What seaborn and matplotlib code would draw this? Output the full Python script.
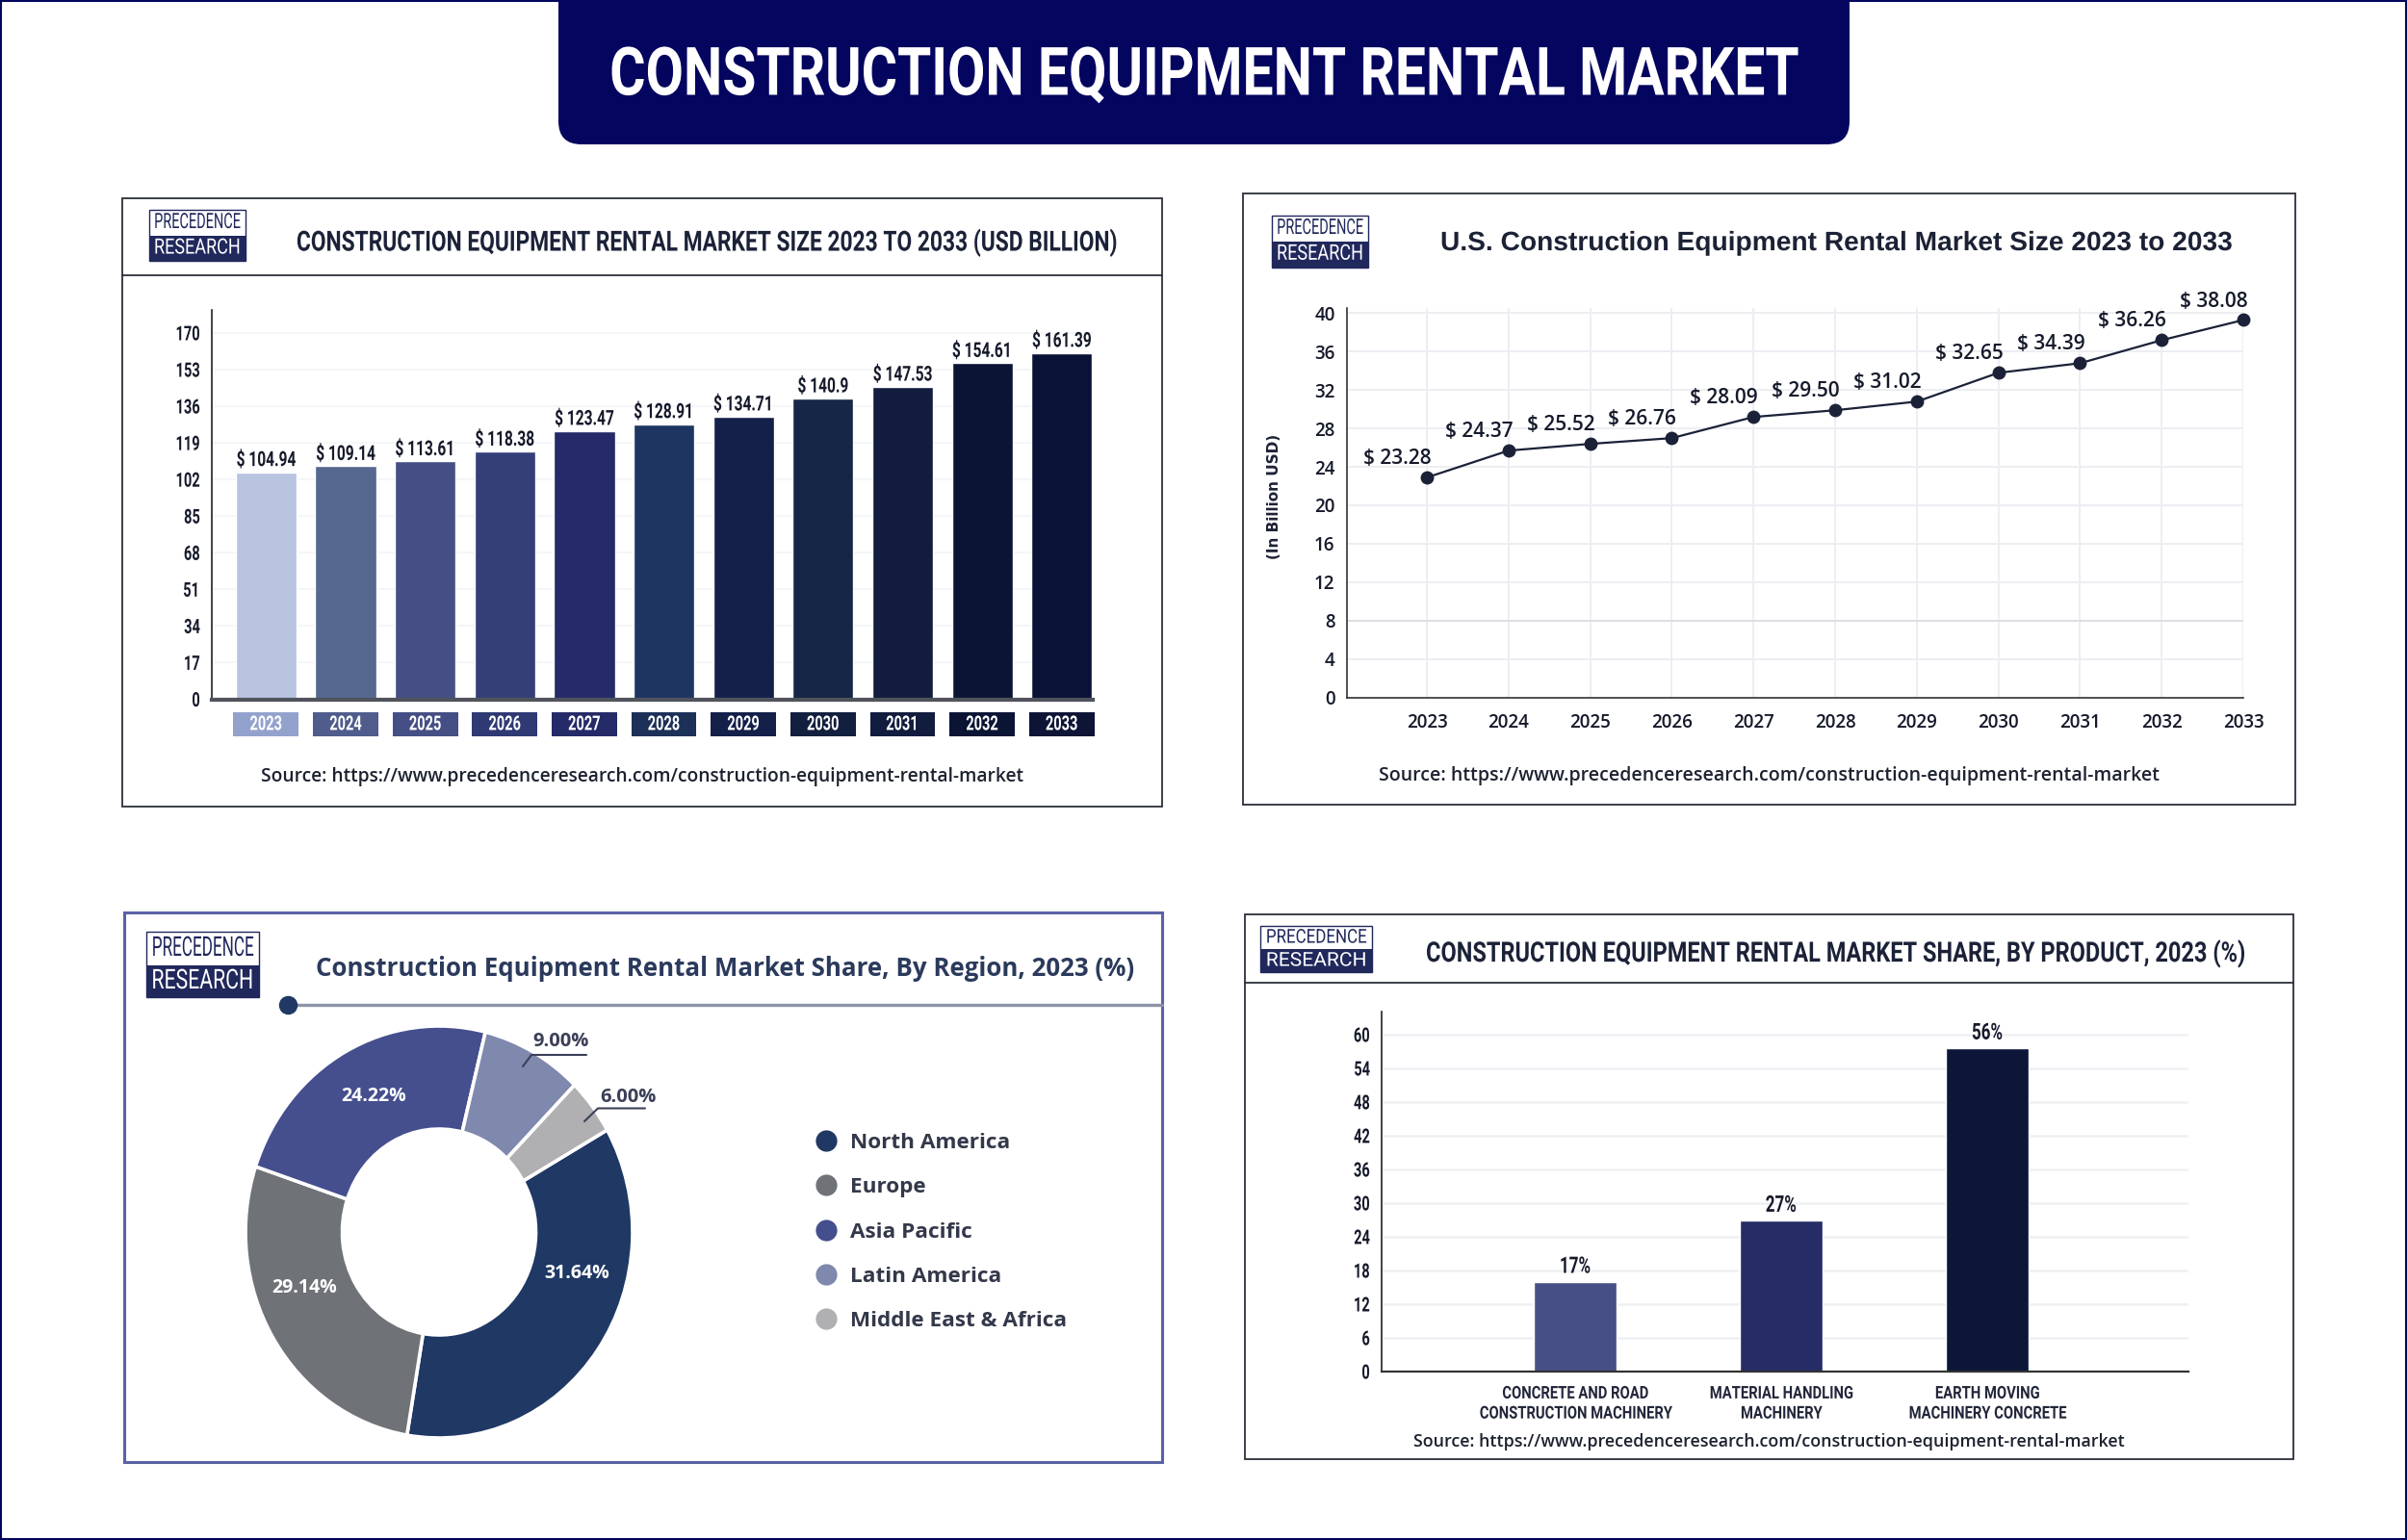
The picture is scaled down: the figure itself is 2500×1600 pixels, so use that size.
import matplotlib
matplotlib.use("Agg")
import matplotlib.pyplot as plt
import matplotlib.patheffects as pe
from matplotlib.lines import Line2D
from matplotlib.patches import FancyBboxPatch, Rectangle
from matplotlib.transforms import Affine2D
import seaborn as sns

W, H = 2500, 1600
NARROW = ["Roboto", "DejaVu Sans"]
WIDE = ["Open Sans", "DejaVu Sans"]
NAVY = "#04055f"
INK = "#1b2238"
SOURCE = "Source: https://www.precedenceresearch.com/construction-equipment-rental-market"

# market size bars
size_years = ["2023", "2024", "2025", "2026", "2027", "2028", "2029", "2030", "2031", "2032", "2033"]
size_heights = [105.4, 108.2, 110.4, 114.9, 124.5, 127.7, 131.2, 139.6, 145.0, 156.0, 160.7]
size_labels = ["$ 104.94", "$ 109.14", "$ 113.61", "$ 118.38", "$ 123.47", "$ 128.91",
               "$ 134.71", "$ 140.9", "$ 147.53", "$ 154.61", "$ 161.39"]
size_colors = ["#b8c4e0", "#56688f", "#454f85", "#343f78", "#252a68", "#1d3560",
               "#14204a", "#162646", "#111c3e", "#0b1434", "#0a1238"]
tag_colors = ["#93a2cd", "#4f5c8c", "#454f85", "#2f3a74", "#252a68", "#1d3058",
              "#14204a", "#131f3e", "#111c3e", "#0b1434", "#0d1436"]
size_ticks = [0, 17, 34, 51, 68, 85, 102, 119, 136, 153, 170]

# U.S. line
us_years = [2023, 2024, 2025, 2026, 2027, 2028, 2029, 2030, 2031, 2032, 2033]
us_heights = [22.9, 25.7, 26.4, 27.0, 29.2, 29.9, 30.8, 33.8, 34.8, 37.2, 39.3]
us_labels = ["$ 23.28", "$ 24.37", "$ 25.52", "$ 26.76", "$ 28.09", "$ 29.50",
             "$ 31.02", "$ 32.65", "$ 34.39", "$ 36.26", "$ 38.08"]
us_ticks = [0, 4, 8, 12, 16, 20, 24, 28, 32, 36, 40]

# region donut, shares as drawn and as printed
regions = ["North America", "Europe", "Asia Pacific", "Latin America", "Middle East & Africa"]
region_drawn = [35.9, 27.5, 23.7, 8.5, 4.4]
region_labels = ["31.64%", "29.14%", "24.22%", "9.00%", "6.00%"]
region_colors = ["#1f3864", "#6f7276", "#454f8e", "#7f88ad", "#b0b0b3"]

# product bars
products = ["CONCRETE AND ROAD\nCONSTRUCTION MACHINERY", "MATERIAL HANDLING\nMACHINERY",
            "EARTH MOVING\nMACHINERY CONCRETE"]
product_heights = [16.0, 26.9, 57.6]
product_labels = ["17%", "27%", "56%"]
product_colors = ["#465086", "#262c66", "#0b1638"]
product_ticks = [0, 6, 12, 18, 24, 30, 36, 42, 48, 54, 60]

sns.set_theme(style="white")
plt.rcParams["font.family"] = NARROW
fig = plt.figure(figsize=(W / 100, H / 100), dpi=100, facecolor="white")


class Condense(pe.AbstractPathEffect):
    # no condensed font installed, so squeeze the glyphs sideways (sy can make them taller)
    def __init__(self, sx, anchor="center", sy=1.0):
        super().__init__()
        self.sx = sx
        self.sy = sy
        self.anchor = anchor

    def draw_path(self, renderer, gc, tpath, affine, rgbFace=None):
        box = tpath.get_extents(affine)
        cx = box.x1 if self.anchor == "right" else (box.x0 + box.x1) / 2
        cy = (box.y0 + box.y1) / 2
        squeeze = Affine2D().translate(-cx, -cy).scale(self.sx, self.sy).translate(cx, cy)
        renderer.draw_path(gc, tpath, affine + squeeze, rgbFace)


def narrow(labels, sx, anchor="center", weight="bold"):
    for lab in labels:
        lab.set_family(NARROW)
        lab.set_weight(weight)
        lab.set_path_effects([Condense(sx, anchor)])


def panel_axes(x0, ytop, x1, ybot):
    ax = fig.add_axes([x0 / W, 1 - ybot / H, (x1 - x0) / W, (ybot - ytop) / H])
    ax.patch.set_alpha(0)
    return ax


# pixel overlay for frames, logos and free text
page = fig.add_axes([0, 0, 1, 1], zorder=5)
page.set_xlim(0, W)
page.set_ylim(H, 0)
page.axis("off")


def fit_text(x0, x1, y, s, size, family=NARROW, weight="bold", color=INK, squeeze=True, sy=1.0):
    # keep the height from size, squeeze the width to span x0..x1
    t = page.text((x0 + x1) / 2, y, s, family=family, weight=weight, color=color,
                  fontsize=size, ha="center", va="center")
    w = t.get_window_extent(fig.canvas.get_renderer()).width
    if squeeze:
        t.set_path_effects([Condense((x1 - x0) / w, sy=sy)])
    else:
        t.set_fontsize(size * (x1 - x0) / w)
    return t


def draw_frame(x0, y0, x1, y1, color="#2b2f3a", lw=1.3):
    page.add_patch(Rectangle((x0, y0), x1 - x0, y1 - y0, fc="none", ec=color, lw=lw))


def draw_logo(x0, y0, x1, y1, ymid):
    page.add_patch(Rectangle((x0, y0), x1 - x0, y1 - y0, fc="white", ec="#20285c", lw=1))
    page.add_patch(Rectangle((x0, ymid), x1 - x0, y1 - ymid, fc="#20285c", ec="none"))
    m = (x1 - x0) * 0.05
    size = (y1 - y0) * 0.3
    fit_text(x0 + m, x1 - m, (y0 + ymid) / 2, "PRECEDENCE", size, weight="normal", color="#20285c")
    fit_text(x0 + m, x1 - m, (ymid + y1) / 2, "RESEARCH", size, weight="normal", color="white")


# outer border and title banner
page.add_patch(Rectangle((1, 1), W - 2, H - 2, fc="none", ec=NAVY, lw=1.5))
page.add_patch(FancyBboxPatch((580, -60), 1341, 210, boxstyle="round,pad=0,rounding_size=24",
                              fc=NAVY, ec="none"))
fit_text(633, 1868, 80, "CONSTRUCTION EQUIPMENT RENTAL MARKET", 50, color="white")

# market size panel
draw_frame(127, 206, 1207, 838)
page.plot([127, 1207], [286, 286], color="#2b2f3a", lw=1.3)
draw_logo(155, 218, 255, 271, 245)
fit_text(308, 1162, 252, "CONSTRUCTION EQUIPMENT RENTAL MARKET SIZE 2023 TO 2033 (USD BILLION)",
         18, sy=1.16)
fit_text(271, 1063, 807, SOURCE, 13, family=WIDE, weight="semibold", color="#1d2230", squeeze=False)

ax = panel_axes(220, 322, 1135, 726.5)
sns.barplot(x=size_years, y=size_heights, hue=size_years, palette=size_colors, legend=False,
            dodge=False, width=0.765, saturation=1, ax=ax)
ax.set_xlim(-0.682, 10.39)
ax.set_ylim(0, 180.7)
ax.set_yticks(size_ticks)
ax.grid(axis="y", color="#f5f6f8", lw=1.5)
ax.set_axisbelow(True)
for i, c in enumerate(ax.containers):
    texts = ax.bar_label(c, labels=[size_labels[i]], padding=1, fontsize=15.5, color="#15192a")
    narrow(texts, 0.72)
    ax.add_patch(Rectangle((i - 0.41, -0.0952), 0.82, 0.0618, transform=ax.get_xaxis_transform(),
                           fc=tag_colors[i], ec="none", clip_on=False, zorder=0.4))
ax.tick_params(axis="y", length=0, labelsize=15, labelcolor="#15192a", pad=8.6)
ax.tick_params(axis="x", length=0, labelsize=15, labelcolor="white", pad=19)
narrow(ax.get_yticklabels(), 0.7, "right")
narrow(ax.get_xticklabels(), 0.7)
for lab in ax.get_xticklabels():
    lab.set_va("center")
sns.despine(ax=ax)
ax.spines["left"].set_color("#222222")
ax.spines["left"].set_linewidth(1.2)
ax.spines["bottom"].set_color("#50535c")
ax.spines["bottom"].set_linewidth(3)

# U.S. line panel
draw_frame(1291, 201, 2384, 836)
draw_logo(1321, 224, 1421, 277.5, 251)
fit_text(1496, 2319, 253, "U.S. Construction Equipment Rental Market Size 2023 to 2033", 20,
         family=["Liberation Sans", "DejaVu Sans"], color="#1c2235")
fit_text(1436, 2239, 806, SOURCE, 13, family=WIDE, weight="semibold", color="#1d2230", squeeze=False)

ax = panel_axes(1399, 320, 2330, 724.5)
sns.lineplot(x=us_years, y=us_heights, color=INK, lw=1.6, marker="o", markersize=10,
             markeredgewidth=0, clip_on=False, ax=ax)
ax.set_xlim(2023 - 0.98, 2033)
ax.set_ylim(0, 40.55)
ax.set_xticks(us_years)
ax.set_yticks(us_ticks)
ax.grid(axis="both", color="#eceef2", lw=1.4)
ax.set_axisbelow(True)
ax.axhline(8, color="#d9dbe0", lw=1.2, zorder=1)
for x, y, s in zip(us_years, us_heights, us_labels):
    ax.annotate(s, (x, y), xytext=(-22, 14), textcoords="offset points", ha="center", va="center",
                fontsize=15, family=WIDE, weight="semibold", color="#15192a")
ax.tick_params(axis="y", length=0, labelsize=13.5, labelcolor="#15192a", pad=9)
ax.tick_params(axis="x", length=0, labelsize=13.5, labelcolor="#15192a", pad=19)
for lab in ax.get_xticklabels() + ax.get_yticklabels():
    lab.set_family(WIDE)
    lab.set_weight("semibold")
for lab in ax.get_xticklabels():
    lab.set_va("center")
sns.despine(ax=ax)
ax.spines["left"].set_color("#333333")
ax.spines["bottom"].set_color("#333333")
ax.spines["left"].set_linewidth(1.2)
ax.spines["bottom"].set_linewidth(1.2)
page.text(1324, 516, "(In Billion USD)", rotation=90, ha="center", va="center",
          family=["DejaVu Sans"], weight="bold", fontsize=11, color="#1c2235")

# region donut panel
draw_frame(129, 948, 1207, 1519, color="#5a62a5", lw=2.2)
draw_logo(151.6, 968, 269.4, 1036, 1003)
fit_text(330, 1176, 1007, "Construction Equipment Rental Market Share, By Region, 2023 (%)", 19,
         family=WIDE, color="#2b3a5c", squeeze=False)
page.plot([300, 1207], [1044, 1044], color="#8d93a8", lw=2.4)
page.plot([299], [1044], "o", color="#1f3864", ms=13)

ax = panel_axes(255, 1066, 657, 1494)
ax.pie(region_drawn, colors=region_colors, startangle=29.7, counterclock=False, radius=1,
       wedgeprops={"width": 0.5, "edgecolor": "white", "linewidth": 2.6})
ax.set_aspect("auto")
ax.set_xlim(-1, 1)
ax.set_ylim(-1, 1)

for x, y, s in [(388, 1139, region_labels[2]), (316, 1338, region_labels[1]), (599, 1323, region_labels[0])]:
    page.text(x, y, s, ha="center", va="center", family=WIDE, weight="bold", fontsize=14, color="white")
for x, y, s in [(583, 1082, region_labels[3]), (652, 1140, region_labels[4])]:
    page.text(x, y, s, ha="center", va="center", family=WIDE, weight="bold", fontsize=14.5, color="#3b4058")
page.plot([543, 552, 609], [1108, 1096, 1096], color="#3b4058", lw=1.5)
page.plot([607, 621, 670], [1165, 1151.5, 1151.5], color="#3b4058", lw=1.5)

handles = [Line2D([], [], ls="", marker="o", ms=16, color=c, mew=0) for c in region_colors]
page.legend(handles, regions, loc="center left", bbox_to_anchor=(835 / W, 1 - 1280 / H),
            bbox_transform=fig.transFigure, frameon=False, handletextpad=0.13,
            labelspacing=1.12, prop={"family": WIDE, "weight": "bold", "size": 16.2},
            labelcolor="#33384a", borderpad=0, borderaxespad=0)

# product bars panel
draw_frame(1293, 950, 2382, 1516)
page.plot([1293, 2382], [1021, 1021], color="#2b2f3a", lw=1.3)
draw_logo(1309, 962, 1425, 1010, 986)
fit_text(1481, 2331, 991, "CONSTRUCTION EQUIPMENT RENTAL MARKET SHARE, BY PRODUCT, 2023 (%)",
         19, sy=1.1)
fit_text(1469, 2206, 1498, SOURCE, 13, family=WIDE, weight="semibold", color="#1d2230", squeeze=False)

ax = panel_axes(1435, 1051, 2273, 1425)
sns.barplot(x=products, y=product_heights, hue=products, palette=product_colors, legend=False,
            dodge=False, width=0.40, saturation=1, ax=ax)
ax.set_xlim(-0.939, 2.977)
ax.set_ylim(0, 64.1)
ax.set_yticks(product_ticks)
ax.grid(axis="y", color="#eef0f3", lw=1.8)
ax.set_axisbelow(True)
for c, s in zip(ax.containers, product_labels):
    texts = ax.bar_label(c, labels=[s], padding=3, fontsize=17, color="#15192a")
    narrow(texts, 0.72)
ax.tick_params(axis="y", length=0, labelsize=15, labelcolor="#15192a", pad=8.6)
ax.tick_params(axis="x", length=0, labelsize=13, labelcolor="#22263a", pad=10)
narrow(ax.get_yticklabels(), 0.7, "right")
narrow(ax.get_xticklabels(), 0.82)
sns.despine(ax=ax)
ax.spines["left"].set_color("#222222")
ax.spines["bottom"].set_color("#333333")
ax.spines["left"].set_linewidth(1.2)
ax.spines["bottom"].set_linewidth(1.6)

fig.savefig("out.png", dpi=100)
